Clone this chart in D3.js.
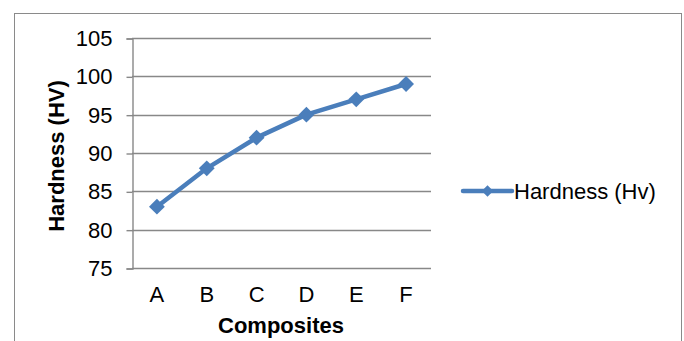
<!DOCTYPE html>
<html>
<head>
<meta charset="utf-8">
<script src="https://cdn.jsdelivr.net/npm/d3@7/dist/d3.min.js"></script>
<style>
  html, body { margin: 0; padding: 0; background: #fff; }
  svg { display: block; font-family: "Liberation Sans", Arial, sans-serif; }
</style>
</head>
<body>
<svg id="chart" width="684" height="341"></svg>
<script>
// Hardness of each composite sample
const categories = ["A", "B", "C", "D", "E", "F"];
const hardness = [83, 88, 92, 95, 97, 99];
const yTicks = [75, 80, 85, 90, 95, 100, 105];
const seriesName = "Hardness (Hv)";

const svg = d3.select("#chart");
const plot = { left: 132, right: 431, top: 38, bottom: 268 };
const gridColor = "#888888";
const lineColor = "#4a7ebb";
const fs = 22;

// outer chart frame
svg.append("rect")
  .attr("x", 14.5).attr("y", 13.5)
  .attr("width", 667).attr("height", 340)
  .attr("fill", "#fff").attr("stroke", "#8a8a8a").attr("stroke-width", 1);

const x = d3.scaleBand().domain(categories).range([plot.left, plot.right]);
const y = d3.scaleLinear().domain([75, 105]).range([plot.bottom, plot.top]);

// horizontal gridlines
svg.append("g").selectAll("line").data(yTicks).join("line")
  .attr("x1", plot.left).attr("x2", plot.right)
  .attr("y1", d => Math.round(y(d)) + 0.5).attr("y2", d => Math.round(y(d)) + 0.5)
  .attr("stroke", gridColor).attr("stroke-width", 1.4);

// y axis
const yAxis = svg.append("g")
  .attr("transform", `translate(${plot.left + 0.5},0.5)`)
  .call(d3.axisLeft(y).tickValues(yTicks).tickSize(6).tickPadding(14));
yAxis.select(".domain").attr("stroke", gridColor).attr("stroke-width", 1.4);
yAxis.selectAll(".tick line").attr("stroke", gridColor).attr("stroke-width", 1.4);
yAxis.selectAll(".tick text")
  .attr("font-size", fs).attr("fill", "#000")
  .attr("font-family", "Liberation Sans, Arial, sans-serif");

// x axis (labels only)
const xAxis = svg.append("g")
  .attr("transform", `translate(0,${plot.bottom + 0.5})`)
  .call(d3.axisBottom(x).tickSize(0).tickPadding(18));
xAxis.select(".domain").remove();
xAxis.selectAll(".tick text")
  .attr("font-size", fs).attr("fill", "#000")
  .attr("font-family", "Liberation Sans, Arial, sans-serif");

// axis titles
svg.append("text")
  .attr("x", 281).attr("y", 333)
  .attr("text-anchor", "middle")
  .attr("font-size", fs).attr("font-weight", "bold")
  .text("Composites");

svg.append("text")
  .attr("transform", "translate(64,156) rotate(-90)")
  .attr("text-anchor", "middle")
  .attr("font-size", fs).attr("font-weight", "bold")
  .text("Hardness (HV)");

// data line
const cx = d => x(d) + x.bandwidth() / 2;
const line = d3.line().x((d, i) => cx(categories[i])).y(d => y(d));
svg.append("path")
  .datum(hardness)
  .attr("d", line)
  .attr("fill", "none")
  .attr("stroke", lineColor).attr("stroke-width", 4.5)
  .attr("stroke-linejoin", "round");

const diamond = d3.symbol().type(d3.symbolDiamond2);
svg.append("g").selectAll("path").data(hardness).join("path")
  .attr("transform", (d, i) => `translate(${cx(categories[i])},${y(d)})`)
  .attr("d", diamond.size(160)())
  .attr("fill", lineColor);

// legend
const lg = svg.append("g").attr("transform", "translate(463,191)");
lg.append("line")
  .attr("x1", 0).attr("x2", 49).attr("y1", 0).attr("y2", 0)
  .attr("stroke", lineColor).attr("stroke-width", 4.5).attr("stroke-linecap", "round");
lg.append("path")
  .attr("transform", "translate(24.5,0)")
  .attr("d", diamond.size(85)())
  .attr("fill", lineColor);
lg.append("text")
  .attr("x", 51).attr("y", 7.5)
  .attr("font-size", fs)
  .text(seriesName);
</script>
</body>
</html>
